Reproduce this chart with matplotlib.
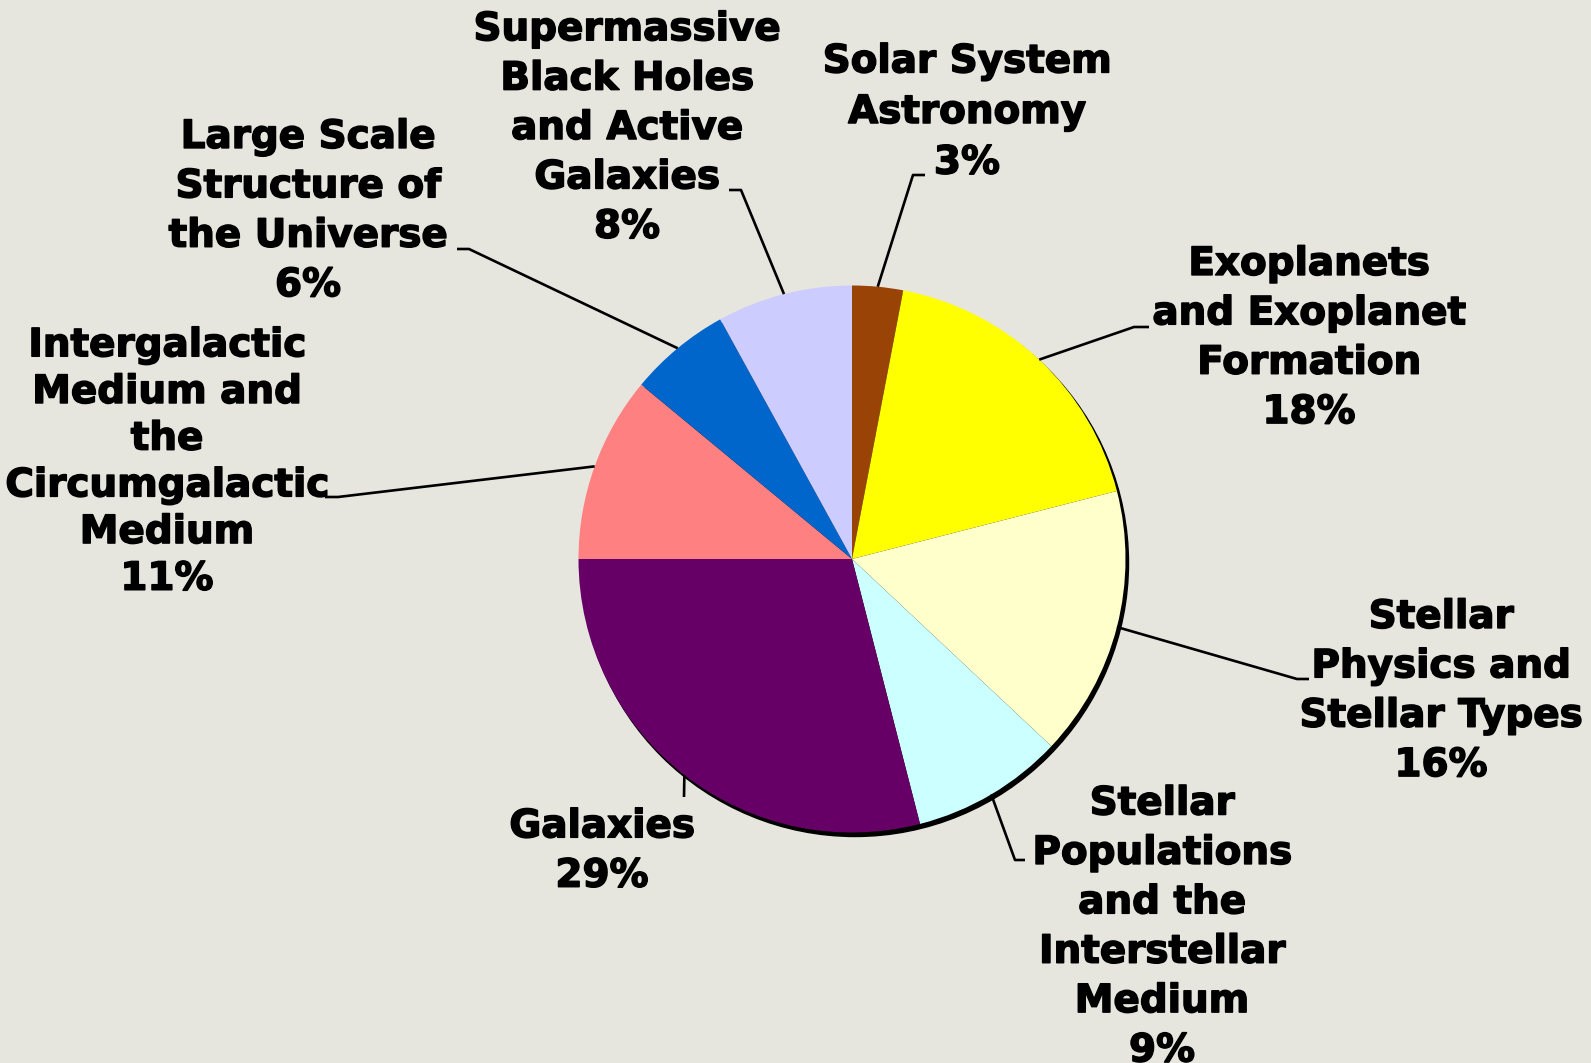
import matplotlib
matplotlib.use("Agg")
import matplotlib.pyplot as plt
import matplotlib.patheffects as pe
from matplotlib.patches import Circle
import numpy as np

W, H = 1591, 1063

topics = [
    "Solar System\nAstronomy",
    "Exoplanets\nand Exoplanet\nFormation",
    "Stellar\nPhysics and\nStellar Types",
    "Stellar\nPopulations\nand the\nInterstellar\nMedium",
    "Galaxies",
    "Intergalactic\nMedium and\nthe\nCircumgalactic\nMedium",
    "Large Scale\nStructure of\nthe Universe",
    "Supermassive\nBlack Holes\nand Active\nGalaxies",
]
shares = [3, 18, 16, 9, 29, 11, 6, 8]
colors = ["#994406", "#FFFF00", "#FFFFCC", "#CCFFFF",
          "#660066", "#FF8080", "#0066CC", "#CCCCFF"]

# pixel layout (y measured downward from the top edge)
cx, cy, R = 852, 559, 273.5
label_pos = [(967, 112), (1309, 338), (1441, 691), (1162, 927),
             (602, 851), (167, 462), (308, 211), (627, 128)]
spacing = [1.42, 1.38, 1.38, 1.38, 1.38, 1.29, 1.38, 1.38]
elbows = [(913, 175), (1134, 327), (1297, 679), (1015, 860),
          (684, 797), (338, 497), (469, 249), (741, 190)]
ends = [(925, 175), (1149, 327), (1309, 679), (1025, 860),
        (684, 797), (325, 497), (457, 249), (729, 190)]


def fy(y):
    return H - y


fig = plt.figure(figsize=(W / 100, H / 100), dpi=100)
fig.patch.set_facecolor("#e6e6df")
ax = fig.add_axes([0, 0, 1, 1])
ax.set_facecolor("#e6e6df")

# drop shadow beneath the pie
ax.add_patch(Circle((cx + 3, fy(cy) - 4), R, color="black", zorder=0.5))

wedges, _ = ax.pie(shares, colors=colors, startangle=90, counterclock=False,
                   radius=R, center=(cx, fy(cy)),
                   wedgeprops=dict(linewidth=0, edgecolor="none"))
for w in wedges:
    w.set_zorder(1)

heavy = [pe.withStroke(linewidth=1.1, foreground="black")]
for w, name, val, (lx, ly), ls, (ex, ey), (tx, ty) in zip(
        wedges, topics, shares, label_pos, spacing, elbows, ends):
    mid = np.deg2rad((w.theta1 + w.theta2) / 2)
    sx = cx + R * np.cos(mid)
    sy = fy(cy) + R * np.sin(mid)
    ax.plot([sx, ex, tx], [sy, fy(ey), fy(ty)], color="black", lw=1.9,
            zorder=2, solid_capstyle="butt")
    ax.text(lx, fy(ly), f"{name}\n{val}%", ha="center", va="center",
            fontsize=28, fontweight="bold", family="DejaVu Sans",
            linespacing=ls, color="black", zorder=3, path_effects=heavy)

ax.set_xlim(0, W)
ax.set_ylim(0, H)
ax.set_aspect("auto")
ax.axis("off")

fig.savefig("out.png", dpi=100, facecolor=fig.get_facecolor())
